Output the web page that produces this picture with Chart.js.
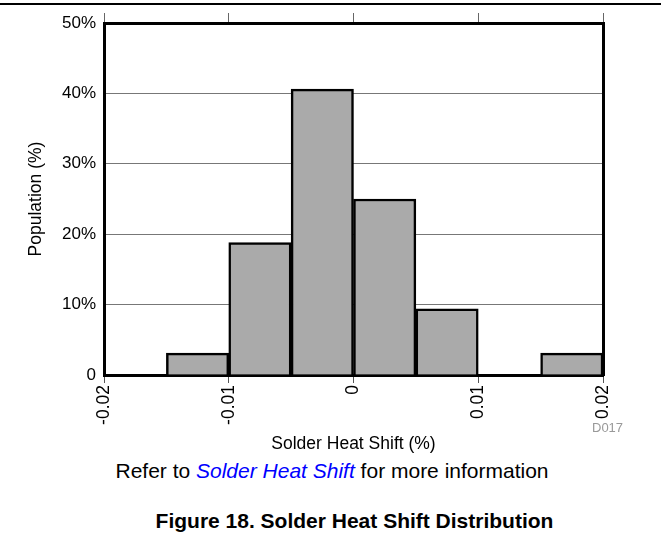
<!DOCTYPE html>
<html>
<head>
<meta charset="utf-8">
<script src="https://cdn.jsdelivr.net/npm/chart.js@4.4.0/dist/chart.umd.min.js"></script>
<style>
    html, body { margin: 0; padding: 0; background: #fff; }
    body { width: 661px; height: 539px; position: relative; overflow: hidden;
           font-family: 'Liberation Sans', Arial, sans-serif; }
    #rule { position: absolute; left: 0; top: 3px; width: 661px; height: 2px; background: #000; }
    #wrap { position: absolute; left: 0; top: 0; width: 661px; height: 455px; }
    #code { position: absolute; left: 592px; top: 420px; font-size: 13px; color: #999; }
    #note { position: absolute; left: 0; top: 459px; width: 664px; line-height: 24px;
            text-align: center; font-size: 21px; color: #000; }
    #note span { color: #0000ff; font-style: italic; }
    #caption { position: absolute; left: 0; top: 509px; width: 709px; line-height: 24px;
               text-align: center; font-size: 21px; font-weight: bold; color: #000; }
</style>
</head>
<body>
<div id="rule"></div>
<div id="wrap"><canvas id="hist"></canvas></div>
<div id="code">D017</div>
<div id="note">Refer to <span>Solder Heat Shift</span> for more information</div>
<div id="caption">Figure 18. Solder Heat Shift Distribution</div>
<script>
// ── Data ──────────────────────────────────────────
const binCenters = [-0.0175, -0.0125, -0.0075, -0.0025, 0.0025, 0.0075, 0.0125, 0.0175];
const population = [0, 3.1, 18.8, 40.6, 25, 9.4, 0, 3.1];
const xTicks = [-0.02, -0.01, 0, 0.01, 0.02];
const yTicks = [0, 10, 20, 30, 40, 50];

const FONT = "'Liberation Sans', Arial, sans-serif";

// fixed box sizes so the plot area lands where the reference has it
function fixWidth(w) { return function (scale) { scale.width = w; }; }
function fixHeight(h) { return function (scale) { scale.height = h; }; }

new Chart(document.getElementById('hist'), {
    type: 'bar',
    data: {
        datasets: [{
            data: binCenters.map((x, i) => ({ x: x, y: population[i] })),
            backgroundColor: '#aaaaaa',
            borderColor: '#000000',
            borderWidth: 2.5,
            borderSkipped: 'start',
            barPercentage: 1,
            categoryPercentage: 1,
            xAxisID: 'x',
            yAxisID: 'y'
        }]
    },
    options: {
        responsive: true,
        maintainAspectRatio: false,
        animation: false,
        events: [],
        layout: { padding: { left: 0, right: 58, top: 13, bottom: 0 } },
        plugins: { legend: { display: false }, tooltip: { enabled: false } },
        scales: {
            x: {
                type: 'linear',
                position: 'bottom',
                offset: false,
                min: -0.02,
                max: 0.02,
                afterBuildTicks: function (scale) { scale.ticks = xTicks.map(v => ({ value: v })); },
                afterFit: fixHeight(80),
                border: { display: true, color: '#000', width: 3 },
                grid: { offset: false, drawOnChartArea: false, drawTicks: true, tickLength: 8, color: '#555', lineWidth: 1 },
                ticks: {
                    minRotation: 90,
                    maxRotation: 90,
                    padding: 2,
                    color: '#000',
                    font: { size: 17.5, family: FONT },
                    callback: function (v) { return String(v); }
                },
                title: {
                    display: true,
                    text: 'Solder Heat Shift (%)',
                    color: '#000',
                    font: { size: 17.5, family: FONT },
                    padding: { top: 4, bottom: 0 }
                }
            },
            x2: {
                type: 'linear',
                position: 'top',
                offset: false,
                min: -0.02,
                max: 0.02,
                afterBuildTicks: function (scale) { scale.ticks = xTicks.map(v => ({ value: v })); },
                afterFit: fixHeight(10),
                border: { display: true, color: '#000', width: 3 },
                grid: { offset: false, drawOnChartArea: false, drawTicks: true, tickLength: 10, color: '#666', lineWidth: 1 },
                ticks: { display: false }
            },
            y: {
                type: 'linear',
                position: 'left',
                min: 0,
                max: 50,
                afterBuildTicks: function (scale) { scale.ticks = yTicks.map(v => ({ value: v })); },
                afterFit: fixWidth(104),
                border: { display: true, color: '#000', width: 3 },
                grid: { drawTicks: false, color: '#777', lineWidth: 1 },
                ticks: {
                    padding: 8,
                    color: '#000',
                    font: { size: 17, family: FONT },
                    callback: function (v) { return v === 0 ? '0' : v + '%'; }
                },
                title: {
                    display: true,
                    text: 'Population (%)',
                    color: '#000',
                    font: { size: 17.5, family: FONT },
                    padding: { top: 25.5, bottom: 0 }
                }
            },
            y2: {
                type: 'linear',
                position: 'right',
                min: 0,
                max: 50,
                afterFit: fixWidth(0),
                border: { display: true, color: '#000', width: 3 },
                grid: { drawOnChartArea: false, drawTicks: false },
                ticks: { display: false }
            }
        }
    }
});
</script>
</body>
</html>
